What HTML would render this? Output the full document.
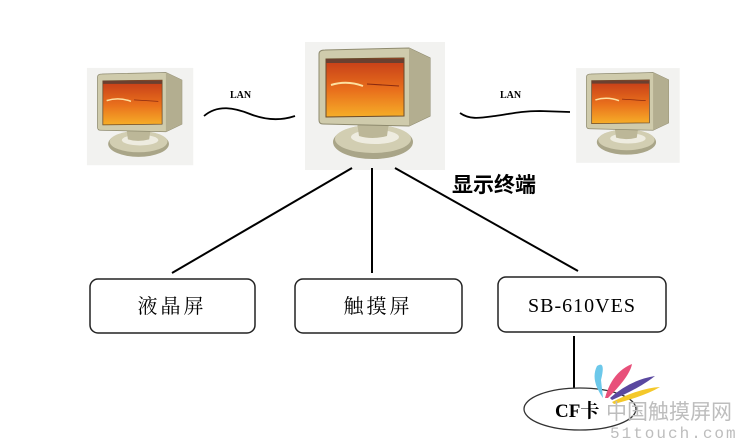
<!DOCTYPE html>
<html><head><meta charset="utf-8"><style>
html,body{margin:0;padding:0;background:#fff;}
svg{display:block}
</style></head><body>
<svg width="741" height="445" viewBox="0 0 741 445" xmlns="http://www.w3.org/2000/svg">
<defs>
<linearGradient id="scr" x1="0" y1="0" x2="0" y2="1">
<stop offset="0" stop-color="#c33a18"/><stop offset="0.55" stop-color="#e9701c"/><stop offset="1" stop-color="#f6ae28"/>
</linearGradient>
<g id="mon">
<rect x="-12" y="-8" width="140" height="128" fill="#f2f2f0"/>
<ellipse cx="56" cy="92" rx="40" ry="17" fill="#a9a588"/>
<ellipse cx="56" cy="89" rx="38" ry="14" fill="#d2ceb2"/>
<ellipse cx="58" cy="87" rx="24" ry="7" fill="#eeece0"/>
<path d="M40 72 L72 72 L70 86 Q55 90 42 86 Z" fill="#bcb798"/>
<path d="M2 4 Q2 0 8 0 L92 -2 L113 8 L113 66 L92 76 L6 74 Q2 74 2 70 Z" fill="#cfcbac" stroke="#8e8a6e" stroke-width="1"/>
<path d="M92 -2 L113 8 L113 66 L92 76 Z" fill="#b3ae90"/>
<path d="M9 9 L87 8 L87 66 L9 67 Z" fill="url(#scr)" stroke="#6a4a2a" stroke-width="1"/>
<rect x="9" y="9" width="78" height="4" fill="#6a4030"/>
<path d="M14 35 Q30 30 46 36" stroke="#fde0a0" stroke-width="2" fill="none"/>
<path d="M50 34 L82 36" stroke="#8a2a10" stroke-width="1"/>
</g>
</defs>
<use href="#mon" transform="translate(317,50)"/>
<use href="#mon" transform="translate(96,74) scale(0.76)"/>
<use href="#mon" transform="translate(585,74) scale(0.74)"/>

<text x="230" y="98" font-family="Liberation Serif,serif" font-weight="bold" font-size="10">LAN</text>
<text x="500" y="98" font-family="Liberation Serif,serif" font-weight="bold" font-size="10">LAN</text>
<path d="M204 116 C218 104 235 108 250 114 C265 120 280 121 295 116" stroke="#000" stroke-width="1.8" fill="none"/>
<path d="M460 113 C470 120 480 118 495 116 C510 114 520 111 540 111 L570 112" stroke="#000" stroke-width="1.8" fill="none"/>

<text x="452" y="192" font-family="Liberation Sans,'Noto Sans CJK SC',sans-serif" font-weight="bold" font-size="21">显示终端</text>

<line x1="352" y1="168" x2="172" y2="273" stroke="#000" stroke-width="2"/>
<line x1="372" y1="168" x2="372" y2="273" stroke="#000" stroke-width="2"/>
<line x1="395" y1="168" x2="578" y2="271" stroke="#000" stroke-width="2"/>

<rect x="90" y="279" width="165" height="54" rx="8" fill="#fff" stroke="#222" stroke-width="1.5"/>
<rect x="295" y="279" width="167" height="54" rx="8" fill="#fff" stroke="#222" stroke-width="1.5"/>
<rect x="498" y="277" width="168" height="55" rx="8" fill="#fff" stroke="#222" stroke-width="1.5"/>
<text x="172" y="313" text-anchor="middle" font-family="Liberation Serif,'Noto Serif CJK SC',serif" font-size="20" letter-spacing="3">液晶屏</text>
<text x="378" y="313" text-anchor="middle" font-family="Liberation Serif,'Noto Serif CJK SC',serif" font-size="20" letter-spacing="3">触摸屏</text>
<text x="582" y="312" text-anchor="middle" font-family="Liberation Serif,serif" font-size="20" letter-spacing="1">SB-610VES</text>

<line x1="574" y1="336" x2="574" y2="388" stroke="#000" stroke-width="2"/>
<ellipse cx="580" cy="409" rx="56" ry="21" fill="#fff" stroke="#333" stroke-width="1.3"/>
<text x="555" y="417" font-family="Liberation Serif,'Noto Serif CJK SC',serif" font-weight="bold" font-size="19">CF卡</text>

<path d="M603 398 Q590 380 597 366 Q606 360 601 380 Z" fill="#6cc8ea"/>
<path d="M605 398 Q612 372 632 364 Q630 376 608 398 Z" fill="#e8507a"/>
<path d="M610 398 Q630 380 655 376 Q640 388 612 400 Z" fill="#5a48a0"/>
<path d="M612 402 Q640 388 660 387 Q645 396 614 404 Z" fill="#f4c82a"/>
<text x="606" y="419" font-family="Liberation Sans,'Noto Sans CJK SC',sans-serif" font-size="21" fill="#bdbdbd">中国触摸屏网</text>
<text x="610" y="438" font-family="Liberation Mono,monospace" font-size="16" fill="#bdbdbd" letter-spacing="2">51touch.com</text>
</svg>
</body></html>
